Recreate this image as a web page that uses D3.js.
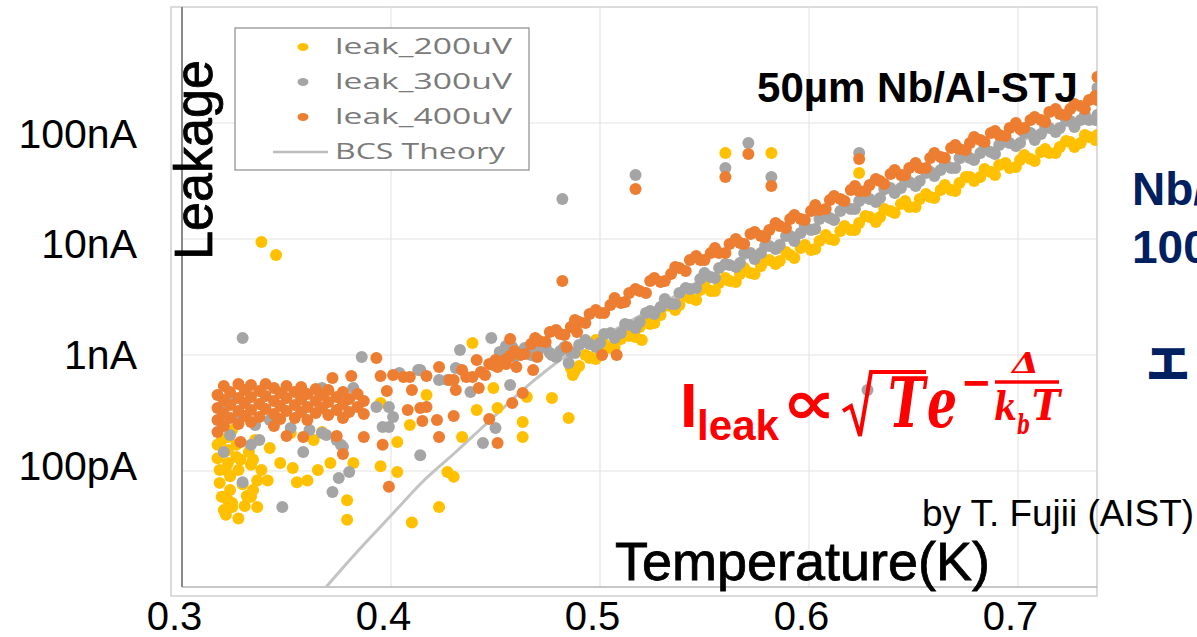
<!DOCTYPE html>
<html>
<head>
<meta charset="utf-8">
<script src="https://cdn.jsdelivr.net/npm/d3@7"></script>
<style>
body { margin: 0; background: #fff; }
svg { display: block; font-family: "Liberation Sans", Arial, sans-serif; }
</style>
</head>
<body>
<svg id="ch" width="1197" height="637"></svg>
<script>
// [temperature (K), leakage current (nA)]
var leak200 = [
  // main trend
  [0.486,0.772],[0.490,0.804],[0.495,0.961],[0.500,1.149],[0.505,1.149],[0.510,1.374],[0.514,1.458],[0.519,1.743],
  [0.524,1.850],[0.529,2.212],[0.534,2.645],[0.538,2.698],[0.543,3.100],[0.548,3.634],[0.553,3.562],[0.557,4.176],
  [0.562,4.345],[0.567,4.99],[0.572,5.09],[0.577,5.85],[0.581,6.59],[0.586,6.46],[0.591,7.28],[0.596,8.36],
  [0.601,8.04],[0.605,9.61],[0.610,10.0],[0.615,11.72],[0.620,11.96],[0.624,13.74],[0.629,15.48],[0.634,15.48],
  [0.639,17.43],[0.644,20.03],[0.648,18.88],[0.653,22.12],[0.658,23.02],[0.663,26.45],[0.668,26.45],[0.672,30.39],
  [0.677,34.23],[0.682,34.23],[0.687,37.82],[0.691,43.45],[0.696,40.94],[0.701,47.97],[0.706,48.94],[0.711,56.2],
  [0.715,55.1],[0.720,62.1],[0.725,68.6],[0.730,67.2],[0.734,75.7],[0.738,78.8],
  [0.488,0.728],[0.493,1.0],[0.498,0.924],[0.502,1.244],[0.507,1.172],[0.512,1.579],[0.517,1.430],[0.522,1.964],
  [0.526,1.887],[0.531,2.645],[0.536,2.443],[0.541,3.226],[0.546,2.980],[0.550,4.01],[0.555,3.562],[0.560,4.61],
  [0.565,4.259],[0.569,5.62],[0.574,4.99],[0.579,6.59],[0.584,6.09],[0.589,7.72],[0.593,6.86],[0.598,8.88],
  [0.603,8.20],[0.608,10.83],[0.612,9.80],[0.617,12.95],[0.622,11.96],[0.627,15.79],[0.632,14.02],[0.636,18.14],
  [0.641,16.75],[0.646,21.27],[0.651,18.88],[0.656,24.43],[0.660,22.56],[0.665,29.21],[0.670,25.93],[0.675,34.23],
  [0.679,31.62],[0.684,40.12],[0.689,35.62],[0.694,45.2],[0.699,41.76],[0.703,52.98],[0.708,47.0],[0.713,59.7],
  [0.718,55.1],[0.723,69.95],[0.727,62.1],[0.732,78.8],[0.737,71.4],
  // outliers
  [0.560,55.1],[0.582,55.1],[0.624,37.07],[0.338,9.42],[0.345,7.28],
  // low temperature cluster
  [0.317,0.168],[0.317,0.129],[0.318,0.102],[0.318,0.079],[0.319,0.060],[0.320,0.046],[0.322,0.196],[0.322,0.152],
  [0.322,0.117],[0.323,0.090],[0.323,0.0685],[0.324,0.053],[0.326,0.168],[0.326,0.132],[0.327,0.102],[0.329,0.077],
  [0.331,0.061],[0.332,0.146],[0.333,0.113],[0.334,0.125],[0.336,0.083],[0.334,0.0685],[0.322,0.056],[0.321,0.042],
  [0.327,0.039],[0.336,0.049],[0.324,0.049],[0.319,0.185],
  [0.330,0.050],[0.333,0.060],[0.338,0.102],[0.341,0.083],[0.328,0.125],[0.321,0.102],[0.324,0.226],[0.335,0.185],
  [0.342,0.158],
  [0.347,0.117],[0.353,0.106],[0.365,0.102],[0.371,0.117],[0.382,0.117],[0.395,0.110],[0.403,0.098],[0.379,0.056],
  [0.379,0.038],[0.410,0.036],[0.423,0.049],[0.427,0.098],[0.430,0.089],[0.434,0.196],[0.441,0.336],[0.417,0.452],
  [0.409,0.249],[0.403,0.178],[0.355,0.080],[0.360,0.083],[0.439,1.269],[0.449,0.520],[0.451,0.349],[0.465,0.435],
  [0.477,0.426],[0.485,0.287],[0.487,0.673],[0.495,0.942],[0.463,0.265],[0.463,0.196],[0.520,1.347],[0.498,1.347],
  [0.352,0.213],[0.363,0.185],[0.367,0.217],[0.395,0.386]
];

var leak300 = [
  [0.452,1.061],[0.457,1.126],[0.462,1.061],[0.467,1.000],[0.471,1.126],[0.476,1.040],[0.481,1.083],[0.486,1.061],
  [0.490,1.219],[0.495,1.244],[0.500,1.269],[0.505,1.548],[0.510,1.548],[0.514,1.814],[0.519,1.925],[0.524,2.395],
  [0.529,2.593],[0.534,2.752],[0.538,3.423],[0.543,3.707],[0.548,4.52],[0.553,4.70],[0.557,5.62],[0.562,5.97],
  [0.567,6.21],[0.572,7.57],[0.577,7.57],[0.581,8.70],[0.586,8.88],[0.591,10.61],[0.596,11.27],[0.601,11.96],
  [0.605,14.87],[0.610,15.17],[0.615,17.43],[0.620,18.14],[0.624,21.27],[0.629,22.12],[0.634,22.56],[0.639,27.53],
  [0.644,27.53],[0.648,30.99],[0.653,31.62],[0.658,37.82],[0.663,39.35],[0.668,40.94],[0.672,49.9],[0.677,49.9],
  [0.682,55.1],[0.687,56.2],[0.691,64.6],[0.696,67.2],[0.701,67.2],[0.706,82.0],[0.711,80.4],[0.715,90.6],
  [0.720,90.6],[0.725,104.0],[0.730,106.1],[0.734,106.1],[0.738,117.2],
  [0.455,1.196],[0.459,0.961],[0.464,1.149],[0.469,0.980],[0.474,1.172],[0.479,0.961],[0.483,1.172],[0.488,1.040],
  [0.493,1.347],[0.498,1.172],[0.502,1.517],[0.507,1.402],[0.512,1.850],[0.517,1.709],[0.522,2.302],[0.526,2.256],
  [0.531,3.04],[0.536,2.752],[0.541,3.78],[0.546,3.78],[0.550,5.09],[0.555,4.61],[0.560,6.09],[0.565,5.735],
  [0.569,7.57],[0.574,6.72],[0.579,8.70],[0.584,8.20],[0.589,10.61],[0.593,9.61],[0.598,12.95],[0.603,12.20],
  [0.608,16.10],[0.612,14.58],[0.617,19.25],[0.622,18.14],[0.627,23.48],[0.632,20.84],[0.636,26.98],[0.641,24.93],
  [0.646,32.25],[0.651,28.63],[0.656,37.07],[0.660,34.92],[0.665,45.2],[0.670,40.94],[0.675,52.98],[0.679,47.97],
  [0.684,62.1],[0.689,54.1],[0.694,69.95],[0.699,63.35],[0.703,82.0],[0.708,71.4],[0.713,92.4],[0.718,83.6],
  [0.723,106.1],[0.727,92.4],[0.732,117.2],[0.737,106.1],
  [0.560,40.94],[0.571,67.2],[0.582,34.23],[0.624,55.1],[0.517,35.62],[0.482,22.12],[0.329,1.402],[0.738,200.3],
  [0.628,0.499],
  [0.386,0.961],[0.433,1.104],[0.448,1.402],[0.414,0.137],[0.444,0.174],[0.450,0.235],[0.372,0.066],[0.348,0.049],
  [0.329,0.080],[0.320,0.146],[0.358,0.146],[0.376,0.168],[0.380,0.098],[0.375,0.087],[0.393,0.356],[0.396,0.240],
  [0.401,0.292],[0.367,0.520],[0.382,0.520],[0.404,0.700],[0.413,0.743],[0.427,0.609],[0.431,0.772],[0.438,0.480],
  [0.337,0.185],[0.458,1.172],[0.470,1.061],[0.477,1.0],[0.485,0.853],[0.457,0.551],[0.399,0.356],[0.399,0.240],
  [0.423,0.609],[0.414,0.743],[0.324,0.409],[0.367,0.213],[0.369,0.204],[0.374,0.185],[0.377,0.161],[0.365,0.499],
  [0.321,0.371],[0.328,0.304],[0.335,0.249],[0.342,0.275],[0.352,0.235],[0.361,0.226],[0.323,0.204],[0.333,0.168]
];

var leak400 = [
  [0.443,0.713],[0.447,0.836],[0.452,0.836],[0.457,0.980],[0.462,1.00],[0.467,1.244],[0.471,1.320],[0.476,1.579],
  [0.481,1.517],[0.486,1.743],[0.490,1.925],[0.495,2.256],[0.500,2.302],[0.505,2.698],[0.510,2.807],[0.514,3.423],
  [0.519,3.562],[0.524,4.345],[0.529,4.259],[0.534,4.99],[0.538,5.62],[0.543,6.59],[0.548,6.59],[0.553,7.57],
  [0.557,7.57],[0.562,9.06],[0.567,9.24],[0.572,11.04],[0.577,10.61],[0.581,11.96],[0.586,12.95],[0.591,14.87],
  [0.596,14.87],[0.601,17.43],[0.605,17.78],[0.610,21.69],[0.615,22.12],[0.620,26.45],[0.624,25.93],[0.629,29.21],
  [0.634,31.62],[0.639,36.34],[0.644,35.62],[0.648,40.94],[0.653,40.94],[0.658,49.9],[0.663,50.9],[0.668,60.9],
  [0.672,59.7],[0.677,67.2],[0.682,71.4],[0.687,82.0],[0.691,78.8],[0.696,90.6],[0.701,88.8],[0.706,106.1],
  [0.711,106.1],[0.715,124.4],[0.720,119.6],[0.725,132.1],[0.730,140.2],[0.734,157.9],[0.738,157.9],
  [0.445,0.672],[0.450,0.906],[0.455,0.836],[0.459,1.083],[0.464,1.020],[0.469,1.402],[0.474,1.295],[0.479,1.642],
  [0.483,1.487],[0.488,2.003],[0.493,1.887],[0.498,2.443],[0.502,2.302],[0.507,3.100],[0.512,2.863],[0.517,3.707],
  [0.522,3.423],[0.526,4.61],[0.531,4.345],[0.536,5.735],[0.541,5.30],[0.546,7.135],[0.550,6.59],[0.555,8.36],
  [0.560,7.57],[0.565,10.0],[0.569,9.06],[0.574,11.49],[0.579,10.40],[0.584,13.74],[0.589,12.44],[0.593,16.10],
  [0.598,14.58],[0.603,19.64],[0.608,18.14],[0.612,23.48],[0.617,21.27],[0.622,28.63],[0.627,25.93],[0.632,32.89],
  [0.636,29.79],[0.641,39.35],[0.646,35.62],[0.651,45.2],[0.656,40.94],[0.660,55.1],[0.665,49.9],[0.670,64.6],
  [0.675,58.5],[0.679,75.7],[0.684,68.6],[0.689,85.3],[0.694,77.3],[0.699,100],[0.703,90.6],[0.708,112.6],
  [0.713,102.0],[0.718,132.1],[0.723,117.2],[0.727,145.8],[0.732,132.1],[0.737,171.0],
  [0.560,34.23],[0.571,54.1],[0.582,28.63],[0.624,48.94],[0.517,26.98],[0.482,4.345],[0.738,249.2],
  [0.317,0.452],[0.317,0.349],[0.317,0.275],[0.317,0.217],[0.320,0.540],[0.320,0.409],[0.320,0.310],[0.320,0.244],
  [0.323,0.480],[0.323,0.371],[0.323,0.287],[0.327,0.562],[0.327,0.426],[0.327,0.329],[0.327,0.254],
  [0.330,0.499],[0.330,0.386],[0.330,0.298],[0.333,0.551],[0.333,0.435],[0.333,0.336],[0.333,0.265],
  [0.337,0.489],[0.337,0.378],[0.337,0.292],[0.340,0.562],[0.340,0.443],[0.340,0.342],
  [0.344,0.520],[0.344,0.401],[0.344,0.310],[0.344,0.244],[0.347,0.470],[0.347,0.364],[0.347,0.281],
  [0.350,0.540],[0.350,0.426],[0.350,0.329],[0.354,0.480],[0.354,0.371],[0.354,0.287],
  [0.357,0.530],[0.357,0.418],[0.357,0.323],[0.360,0.461],[0.360,0.356],[0.360,0.275],
  [0.364,0.509],[0.364,0.401],[0.364,0.316],[0.367,0.452],[0.367,0.349],[0.370,0.499],[0.370,0.394],[0.370,0.304],
  [0.374,0.435],[0.374,0.336],[0.377,0.480],[0.377,0.378],[0.377,0.287],[0.380,0.418],[0.380,0.323],
  [0.384,0.461],[0.384,0.356],[0.387,0.401],[0.387,0.310],
  [0.393,0.942],[0.372,0.634],[0.381,0.659],[0.395,0.659],[0.398,0.489],[0.409,0.646],[0.417,0.659],[0.423,0.788],
  [0.428,0.609],[0.434,0.743],[0.439,0.646],[0.441,0.906],[0.449,0.820],[0.431,0.499],[0.442,0.520],[0.430,0.298],
  [0.422,0.275],[0.415,0.270],[0.408,0.336],[0.417,0.356],[0.423,0.196],[0.447,0.281],[0.399,0.073],[0.377,0.140],
  [0.396,0.168],[0.387,0.196],[0.374,0.200],[0.358,0.196],[0.350,0.200],[0.328,0.178],[0.451,0.174],[0.455,0.924],
  [0.457,1.374],[0.451,0.788],[0.460,0.788],[0.468,0.743],[0.458,0.386],[0.463,0.470],[0.414,0.349],[0.410,0.499],
  [0.406,0.646],[0.401,0.673],[0.470,0.961],[0.501,1.0],[0.508,1.0],[0.484,1.172],[0.489,1.579],[0.430,0.609],
  [0.436,0.646]
];

var bcsTheory = [
  [0.369,0.01],[0.379,0.0161],[0.389,0.0254],[0.402,0.0452],[0.415,0.0804],[0.431,0.1458],[0.446,0.2593],
  [0.467,0.574],[0.481,0.906],[0.500,1.402],[0.524,2.443],[0.548,4.259],[0.572,7.135],[0.596,11.49],
  [0.620,18.5],[0.644,28.07],[0.667,41.76],[0.691,60.9],[0.715,85.3],[0.738,114.9]
];

var xTicks = [0.3, 0.4, 0.5, 0.6, 0.7];
var yTicks = [0.1, 1, 10, 100];            // nA
var yTickLabels = ["100pA", "1nA", "10nA", "100nA"];
var seriesNames = ["leak_200uV", "leak_300uV", "leak_400uV"];
var seriesColors = ["#FFC000", "#A5A5A5", "#ED7D31"];

var svg = d3.select("#ch");
var pLeft = 182, pRight = 1097, pTop = 7, pBottom = 587;

var x = d3.scaleLinear().domain([0.3, 0.7378]).range([pLeft, pRight]);
var y = d3.scaleLog().domain([0.01, 1000]).range([pBottom, pTop]);
// slide labels sit a little off the chart's own decades
var yLab = d3.scaleLog().domain([0.1, 100]).range([466, 134]);

// frame of the pasted chart
svg.append("rect").attr("x", 171).attr("y", pTop).attr("width", pRight - 171).attr("height", 596 - pTop)
  .attr("fill", "#fff").attr("stroke", "#cfcfcf").attr("stroke-width", 1.5);

// grid
svg.append("g").selectAll("line").data(xTicks.slice(1)).enter().append("line")
  .attr("x1", function (d) { return x(d); }).attr("x2", function (d) { return x(d); })
  .attr("y1", pTop).attr("y2", pBottom).attr("stroke", "#e4e4e4").attr("stroke-width", 1.2);
svg.append("g").selectAll("line").data(yTicks).enter().append("line")
  .attr("x1", pLeft).attr("x2", pRight)
  .attr("y1", function (d) { return y(d); }).attr("y2", function (d) { return y(d); })
  .attr("stroke", "#e4e4e4").attr("stroke-width", 1.2);

svg.append("line").attr("x1", pLeft).attr("x2", pRight).attr("y1", pBottom).attr("y2", pBottom)
  .attr("stroke", "#b4b4b4").attr("stroke-width", 1.5);
svg.append("line").attr("x1", pLeft).attr("x2", pLeft).attr("y1", pTop).attr("y2", pBottom)
  .attr("stroke", "#8a8a8a").attr("stroke-width", 2);

svg.append("clipPath").attr("id", "plot").append("rect")
  .attr("x", pLeft).attr("y", pTop).attr("width", pRight - pLeft).attr("height", pBottom - pTop);
var plot = svg.append("g").attr("clip-path", "url(#plot)");

var line = d3.line()
  .x(function (d) { return x(d[0]); })
  .y(function (d) { return y(d[1]); })
  .curve(d3.curveMonotoneX);
plot.append("path").datum(bcsTheory).attr("d", line)
  .attr("fill", "none").attr("stroke", "#c3c3c3").attr("stroke-width", 3);

[leak200, leak300, leak400].forEach(function (s, i) {
  plot.append("g").selectAll("circle").data(s).enter().append("circle")
    .attr("cx", function (d) { return x(d[0]); })
    .attr("cy", function (d) { return y(d[1]); })
    .attr("r", 6)
    .attr("fill", seriesColors[i]);
});

// legend
var lg = svg.append("g");
lg.append("rect").attr("x", 235).attr("y", 28).attr("width", 294).attr("height", 142)
  .attr("fill", "#fff").attr("stroke", "#8c8c8c").attr("stroke-width", 1.2);
seriesNames.forEach(function (n, i) {
  lg.append("ellipse").attr("cx", 303).attr("cy", 47 + i * 35).attr("rx", 5.5).attr("ry", 4)
    .attr("fill", seriesColors[i]);
  lg.append("text").attr("x", 335).attr("y", 54 + i * 35).text(n)
    .attr("font-family", "'Open Sans', sans-serif").attr("font-size", 21).attr("fill", "#7a7a7a")
    .attr("textLength", 177).attr("lengthAdjust", "spacingAndGlyphs");
});
lg.append("line").attr("x1", 273).attr("x2", 328).attr("y1", 152).attr("y2", 152)
  .attr("stroke", "#bdbdbd").attr("stroke-width", 2.5);
lg.append("text").attr("x", 335).attr("y", 159).text("BCS Theory")
  .attr("font-family", "'Open Sans', sans-serif").attr("font-size", 21).attr("fill", "#7a7a7a")
  .attr("textLength", 170).attr("lengthAdjust", "spacingAndGlyphs");

// axes (slide labels)
var xa = svg.append("g").attr("transform", "translate(-8,0)")
  .call(d3.axisBottom(x).tickValues(xTicks).tickSize(0).tickFormat(d3.format(".1f")));
xa.select(".domain").remove();
xa.selectAll("text").attr("y", 630).attr("dy", null)
  .attr("font-family", "'Liberation Sans', Arial, sans-serif").attr("font-size", 40).attr("fill", "#000");

var ya = svg.append("g").attr("transform", "translate(137,0)")
  .call(d3.axisLeft(yLab).tickValues(yTicks).tickSize(0).tickPadding(0)
    .tickFormat(function (d, i) { return yTickLabels[i]; }));
ya.select(".domain").remove();
ya.selectAll("text")
  .attr("font-family", "'Liberation Sans', Arial, sans-serif").attr("font-size", 41).attr("fill", "#000");

// titles
svg.append("text").attr("transform", "translate(212,260) rotate(-90)").text("Leakage")
  .attr("font-size", 54).attr("fill", "#000").attr("stroke", "#000").attr("stroke-width", 0.8)
  .attr("textLength", 200).attr("lengthAdjust", "spacingAndGlyphs");
svg.append("text").attr("x", 615).attr("y", 580).text("Temperature(K)")
  .attr("font-size", 53).attr("fill", "#000").attr("stroke", "#000").attr("stroke-width", 0.8)
  .attr("textLength", 375).attr("lengthAdjust", "spacingAndGlyphs");
svg.append("text").attr("x", 757).attr("y", 102).text("50µm Nb/Al-STJ")
  .attr("font-size", 42).attr("font-weight", "bold").attr("fill", "#000")
  .attr("textLength", 321).attr("lengthAdjust", "spacingAndGlyphs");
svg.append("text").attr("x", 922).attr("y", 526).text("by T. Fujii (AIST)")
  .attr("font-size", 36).attr("fill", "#000")
  .attr("textLength", 272).attr("lengthAdjust", "spacingAndGlyphs");

// text running off the slide edge
svg.append("text").attr("x", 1132).attr("y", 205).text("Nb/Al-STJ")
  .attr("font-size", 46).attr("font-weight", "bold").attr("fill", "#002060");
svg.append("text").attr("x", 1132).attr("y", 263).text("100µm")
  .attr("font-size", 46).attr("font-weight", "bold").attr("fill", "#002060");
svg.append("text").attr("x", 1146).attr("y", 380).text("エ")
  .attr("font-family", "'Noto Sans CJK JP', sans-serif").attr("font-size", 44).attr("font-weight", 900)
  .attr("fill", "#002060");

// formula
var red = "#FF0000";
var fm = svg.append("g").attr("fill", red);
fm.append("text").attr("x", 680).attr("y", 427).text("I")
  .attr("font-size", 63).attr("font-weight", "bold");
fm.append("text").attr("x", 697).attr("y", 440).text("leak")
  .attr("font-size", 42).attr("font-weight", "bold")
  .attr("textLength", 82).attr("lengthAdjust", "spacingAndGlyphs");
fm.append("text").attr("x", 782).attr("y", 424).text("∝")
  .attr("font-family", "'DejaVu Sans', sans-serif").attr("font-size", 62).attr("font-weight", "bold")
  .attr("textLength", 54).attr("lengthAdjust", "spacingAndGlyphs");
fm.append("path").attr("d", "M843,411 L851,406 L860,436 L871,372 L926,372")
  .attr("fill", "none").attr("stroke", red).attr("stroke-width", 4).attr("stroke-linejoin", "miter");
var mathFont = "'DejaVu Serif', serif";
fm.append("text").attr("x", 888).attr("y", 427).text("T")
  .attr("font-family", mathFont).attr("font-size", 70).attr("font-weight", "bold").attr("font-style", "italic")
  .attr("textLength", 37).attr("lengthAdjust", "spacingAndGlyphs");
fm.append("text").attr("x", 927).attr("y", 427).text("e")
  .attr("font-family", mathFont).attr("font-size", 70).attr("font-weight", "bold").attr("font-style", "italic")
  .attr("textLength", 30).attr("lengthAdjust", "spacingAndGlyphs");
fm.append("text").attr("x", 961).attr("y", 396).text("−")
  .attr("font-family", "'DejaVu Sans', sans-serif").attr("font-size", 40).attr("font-weight", "bold")
  .attr("textLength", 31).attr("lengthAdjust", "spacingAndGlyphs");
fm.append("line").attr("x1", 995).attr("x2", 1059).attr("y1", 382).attr("y2", 382)
  .attr("stroke", red).attr("stroke-width", 3.5);
fm.append("text").attr("x", 1012).attr("y", 373).text("Δ")
  .attr("font-family", mathFont).attr("font-size", 28).attr("font-weight", "bold").attr("font-style", "italic")
  .attr("textLength", 27).attr("lengthAdjust", "spacingAndGlyphs");
fm.append("text").attr("x", 994).attr("y", 420).text("k")
  .attr("font-family", mathFont).attr("font-size", 40).attr("font-weight", "bold").attr("font-style", "italic")
  .attr("textLength", 23).attr("lengthAdjust", "spacingAndGlyphs");
fm.append("text").attr("x", 1017).attr("y", 434).text("b")
  .attr("font-family", mathFont).attr("font-size", 28).attr("font-weight", "bold").attr("font-style", "italic")
  .attr("textLength", 13).attr("lengthAdjust", "spacingAndGlyphs");
fm.append("text").attr("x", 1032).attr("y", 420).text("T")
  .attr("font-family", mathFont).attr("font-size", 42).attr("font-weight", "bold").attr("font-style", "italic")
  .attr("textLength", 28).attr("lengthAdjust", "spacingAndGlyphs");
</script>
</body>
</html>
